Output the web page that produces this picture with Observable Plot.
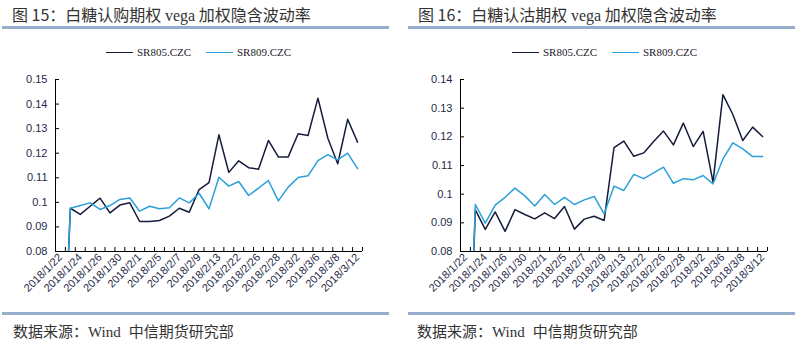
<!DOCTYPE html>
<html><head><meta charset="utf-8">
<script src="https://cdn.jsdelivr.net/npm/d3@7"></script>
<script src="https://cdn.jsdelivr.net/npm/@observablehq/plot@0.6"></script>
<style>
html,body{margin:0;padding:0;background:#fff;}
body{width:803px;height:341px;overflow:hidden;position:relative;font-family:"Noto Sans CJK SC","Noto Sans",sans-serif;}
.panel{position:absolute;top:0;width:400px;height:341px;}
.title{position:absolute;top:4px;font-size:16px;color:#333;white-space:nowrap;line-height:20px;}
.bar{position:absolute;height:3px;background:#94aecb;width:387px;}
.caption{position:absolute;top:321px;font-size:15px;color:#333;white-space:nowrap;line-height:20px;}
.serif{font-family:"Liberation Serif","Times New Roman",serif;}
.gap{margin-left:8px;}
.legend{position:absolute;top:45px;font-family:"Liberation Serif","Times New Roman",serif;font-size:11px;color:#1a1a2a;line-height:14px;white-space:nowrap;}
.legend span.sw{position:absolute;top:7px;width:27px;height:0;border-top:1.5px solid;}
.legend span.tx{position:absolute;top:0;}
.chart{position:absolute;top:30px;left:0;}
</style>
</head><body>
<div class="panel" id="p1" style="left:0px">
  <div class="title" style="left:12px">图 15：白糖认购期权 <span class="serif">vega</span> 加权隐含波动率</div>
  <div class="bar" style="left:2px;top:26px"></div>
  <div class="legend" id="lg1"></div>
  <div class="chart" id="c1"></div>
  <div class="bar" style="left:2px;top:312px"></div>
  <div class="caption" style="left:13px">数据来源：<span class="serif">Wind</span><span class="gap">中信期货研究部</span></div>
</div>
<div class="panel" id="p2" style="left:405px">
  <div class="title" style="left:13px">图 16：白糖认沽期权 <span class="serif">vega</span> 加权隐含波动率</div>
  <div class="bar" style="left:3px;top:26px"></div>
  <div class="legend" id="lg2"></div>
  <div class="chart" id="c2"></div>
  <div class="bar" style="left:3px;top:312px"></div>
  <div class="caption" style="left:12px">数据来源：<span class="serif">Wind</span><span class="gap">中信期货研究部</span></div>
</div>
<script>
// ---- data ----
const dates = ["2018/1/22","2018/1/23","2018/1/24","2018/1/25","2018/1/26","2018/1/29","2018/1/30","2018/1/31",
  "2018/2/1","2018/2/2","2018/2/5","2018/2/6","2018/2/7","2018/2/8","2018/2/9","2018/2/12","2018/2/13","2018/2/14",
  "2018/2/22","2018/2/23","2018/2/26","2018/2/27","2018/2/28","2018/3/1","2018/3/2","2018/3/5","2018/3/6","2018/3/7",
  "2018/3/8","2018/3/9","2018/3/12"];
const xTickLabels = ["2018/1/22","2018/1/24","2018/1/26","2018/1/30","2018/2/1","2018/2/5","2018/2/7","2018/2/9",
  "2018/2/13","2018/2/22","2018/2/26","2018/2/28","2018/3/2","2018/3/6","2018/3/8","2018/3/12"];
const seriesNames = ["SR805.CZC","SR809.CZC"];

// 图15 认购
const callSR805 = [0, 0.0976, 0.0951, 0.0984, 0.1017, 0.0957, 0.0989, 0.0998, 0.0922, 0.0922, 0.0926, 0.0944, 0.0976, 0.0960, 0.1052, 0.1080,
  0.1275, 0.1122, 0.1169, 0.1141, 0.1135, 0.1252, 0.1185, 0.1185, 0.1279, 0.1272, 0.1424, 0.1261, 0.1157, 0.1338, 0.1245];
const callSR809 = [0, 0.0976, 0.0987, 0.0998, 0.0971, 0.0987, 0.1012, 0.1018, 0.0964, 0.0984, 0.0974, 0.0978, 0.1018, 0.0998, 0.1037, 0.0974,
  0.1102, 0.1066, 0.1085, 0.1028, 0.1058, 0.1089, 0.1006, 0.1062, 0.1101, 0.1108, 0.1170, 0.1194, 0.1173, 0.1200, 0.1137];
const callYTicks = [0.08, 0.09, 0.10, 0.11, 0.12, 0.13, 0.14, 0.15];
const callYLabels = ["0.08","0.09","0.1","0.11","0.12","0.13","0.14","0.15"];

// 图16 认沽
const putSR805 = [0, 0.0945, 0.0877, 0.0938, 0.0870, 0.0946, 0.0929, 0.0914, 0.0935, 0.0915, 0.0957, 0.0878, 0.0913, 0.0923, 0.0908, 0.1162,
  0.1185, 0.1132, 0.1144, 0.1184, 0.1220, 0.1172, 0.1248, 0.1166, 0.1219, 0.1042, 0.1347, 0.1278, 0.1187, 0.1234, 0.1201];
const putSR809 = [0, 0.0964, 0.0899, 0.0962, 0.0989, 0.1021, 0.0994, 0.0959, 0.0999, 0.0964, 0.0989, 0.0964, 0.0980, 0.0992, 0.0931, 0.1028,
  0.1013, 0.1069, 0.1054, 0.1074, 0.1094, 0.1038, 0.1054, 0.1050, 0.1065, 0.1036, 0.1123, 0.1179, 0.1158, 0.1131, 0.1131];
const putYTicks = [0.08, 0.09, 0.10, 0.11, 0.12, 0.13, 0.14];
const putYLabels = ["0.08","0.09","0.1","0.11","0.12","0.13","0.14"];

// ---- style ----
const darkColor = "#141c3a";
const lightColor = "#2b9fd9";
const axisText = "#1f2a48";

function makeChart(s805, s809, yTicks, yLabels) {
  const n = dates.length;
  const idx = dates.map((d, i) => i);
  const labelIdx = xTickLabels.map(l => dates.indexOf(l));
  const bounds = d3.range(n + 1).map(i => i - 0.5);
  return Plot.plot({
    width: 400, height: 280,
    marginLeft: 55, marginRight: 38, marginTop: 49, marginBottom: 59,
    style: {fontFamily: "'Liberation Sans', Arial, sans-serif", fontSize: "11px", background: "transparent", overflow: "visible"},
    x: {type: "linear", domain: [-0.5, n - 0.5]},
    y: {domain: [yTicks[0], yTicks[yTicks.length - 1]]},
    marks: [
      Plot.axisY({ticks: yTicks, tickSize: 0, tickPadding: 8, tickFormat: v => yLabels[yTicks.indexOf(v)], fill: axisText, label: null}),
      Plot.axisY({ticks: yTicks, tickSize: 4, dx: 4, text: null, stroke: "#000", label: null}),
      Plot.axisX({ticks: labelIdx, tickFormat: i => dates[i], tickRotate: -45, tickSize: 0, tickPadding: 4, fill: axisText, label: null}),
      Plot.axisX({ticks: bounds, tickSize: 4, dy: -4, text: null, stroke: "#000", label: null}),
      Plot.ruleX([-0.5], {stroke: "#000"}),
      Plot.ruleY([yTicks[0]], {stroke: "#000"}),
      Plot.lineY(s805, {x: idx, y: s805, stroke: darkColor, strokeWidth: 1.5, clip: true}),
      Plot.lineY(s809, {x: idx, y: s809, stroke: lightColor, strokeWidth: 1.5, clip: true})
    ]
  });
}

function makeLegend(el, positions) {
  const colors = [darkColor, lightColor];
  seriesNames.forEach((name, k) => {
    const sw = document.createElement("span");
    sw.className = "sw"; sw.style.left = positions[k] + "px"; sw.style.borderTopColor = colors[k];
    const tx = document.createElement("span");
    tx.className = "tx"; tx.style.left = (positions[k] + 31) + "px"; tx.textContent = name;
    el.appendChild(sw); el.appendChild(tx);
  });
}

document.getElementById("c1").appendChild(makeChart(callSR805, callSR809, callYTicks, callYLabels));
document.getElementById("c2").appendChild(makeChart(putSR805, putSR809, putYTicks, putYLabels));
makeLegend(document.getElementById("lg1"), [106, 206]);
makeLegend(document.getElementById("lg2"), [107, 207]);
</script>
</body></html>
